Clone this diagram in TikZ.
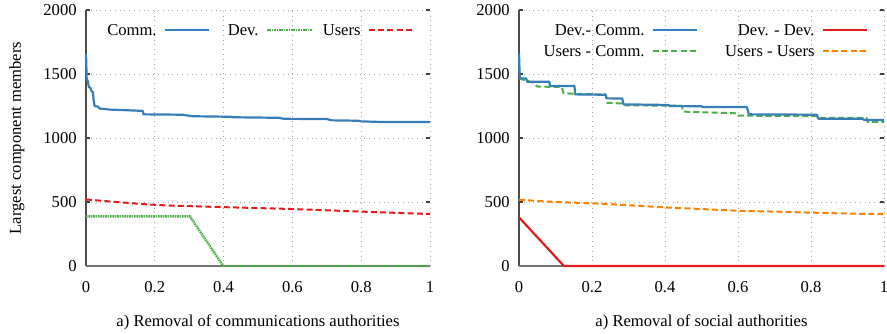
\documentclass[tikz,border=0pt]{standalone}
\usepackage{fontspec}
\setmainfont{Liberation Serif}
\usetikzlibrary{positioning}
\definecolor{cblue}{RGB}{55,126,184}
\definecolor{cred}{RGB}{228,26,28}
\definecolor{cgreen}{RGB}{77,175,74}
\definecolor{corange}{RGB}{255,127,0}
\begin{document}
\begin{tikzpicture}[x=0.5pt, y=0.5pt,
    lbl/.style={font=\fontsize{8.3}{10}\selectfont, inner sep=0pt},
    gridline/.style={gray!70, dotted, line width=0.4pt},
    axisline/.style={black!70, line width=0.6pt},
    tickline/.style={black!75, line width=0.6pt},
    curve/.style={line width=1.1pt, line join=round},
    dashcurve/.style={line width=1pt, dash pattern=on 3pt off 1.6pt},
    dotcurve/.style={line width=1.2pt, dash pattern=on 0.8pt off 0.4pt},
  ]
  \useasboundingbox (0,0) rectangle (887,333);

  % Left panel
  \begin{scope}[shift={(43pt,33.5pt)}, x=172pt, y=0.064pt]
    \foreach \gx in {0.2,0.4,0.6,0.8,1} \draw[gridline] (\gx,0) -- (\gx,2000);
    \foreach \v in {0,500,1000,1500,2000} {
      \draw[gridline] (0,\v) -- (1,\v);
      \draw[tickline] (0,\v) -- ++(2pt,0) (1,\v) -- ++(-2pt,0);
      \node[lbl, anchor=east] (lyt\v) at ([xshift=-4.5pt]0,\v) {\v};
    }
    \foreach \u [count=\i] in {0,0.2,0.4,0.6,0.8,1}
      \node[lbl, anchor=base] (lxt\i) at ([yshift=-13.3pt]\u,0) {\u};
    \draw[axisline] (0,2000) -- (0,0);
    \draw[axisline, black!55] (0,0) -- (1,0);
    \node[lbl, rotate=90] (ylab) at ([xshift=-34.5pt]0,1000) {Largest component members};
    \node[lbl, anchor=base] (lcap) at ([yshift=-30pt]0.5,0) {a) Removal of communications authorities};

    % curves
    \draw[curve, cblue] plot coordinates {(0,1660) (0.002,1460) (0.006,1440) (0.008,1400)
      (0.013,1390) (0.016,1365) (0.02,1360) (0.022,1300) (0.025,1250) (0.035,1245)
      (0.04,1230) (0.07,1222) (0.165,1212) (0.167,1185) (0.28,1182) (0.31,1170)
      (0.42,1166) (0.43,1162) (0.56,1158) (0.575,1150) (0.7,1148) (0.715,1138)
      (0.79,1135) (0.8,1130) (0.86,1125) (1,1125)};
    \draw[dotcurve, cgreen] plot coordinates {(0,388) (0.302,388) (0.399,0) (1,0)};
    \draw[dashcurve, cred] plot[smooth] coordinates {(0,520) (0.2,478) (0.4,460)
      (0.6,445) (0.8,425) (1,406)};

    % legend
    \node[lbl, anchor=east] (kcomm) at (35.5pt,118pt) {Comm.};
    \draw[curve, cblue] ([xshift=4pt]kcomm.east) -- ++(22pt,0);
    \node[lbl, anchor=east] (kdev) at (86.5pt,118pt) {Dev.};
    \draw[dotcurve, cgreen] ([xshift=4pt]kdev.east) -- ++(22.5pt,0);
    \node[lbl, anchor=east] (kusers) at (137.5pt,118pt) {Users};
    \draw[dashcurve, cred] ([xshift=4pt]kusers.east) -- ++(21.5pt,0);
  \end{scope}

  % Right panel
  \begin{scope}[shift={(259.5pt,33.5pt)}, x=182.5pt, y=0.064pt]
    \foreach \gx in {0.2,0.4,0.6,0.8,1} \draw[gridline] (\gx,0) -- (\gx,2000);
    \foreach \v in {0,500,1000,1500,2000} {
      \draw[gridline] (0,\v) -- (1,\v);
      \draw[tickline] (0,\v) -- ++(2pt,0) (1,\v) -- ++(-2pt,0);
      \node[lbl, anchor=east] (ryt\v) at ([xshift=-4.5pt]0,\v) {\v};
    }
    \foreach \u [count=\i] in {0,0.2,0.4,0.6,0.8,1}
      \node[lbl, anchor=base] (rxt\i) at ([yshift=-13.3pt]\u,0) {\u};
    \draw[axisline] (0,2000) -- (0,0);
    \draw[axisline, black!55] (0,0) -- (1,0);
    \node[lbl, anchor=base] (rcap) at ([yshift=-30pt]0.5,0) {a) Removal of social authorities};

    % curves
    \draw[dashcurve, corange] plot[smooth] coordinates {(0,518) (0.1,500) (0.2,490)
      (0.3,475) (0.4,458) (0.5,445) (0.6,432) (0.7,425) (0.8,417) (0.9,410) (1,405)};
    \draw[dashcurve, cgreen] plot coordinates {(0,1466) (0.03,1440) (0.04,1432)
      (0.05,1402) (0.117,1398) (0.122,1350) (0.153,1345) (0.237,1340) (0.242,1275)
      (0.28,1270) (0.285,1256) (0.446,1252) (0.45,1206) (0.596,1193) (0.6,1175)
      (0.82,1170) (0.822,1158) (0.952,1156) (0.955,1127) (1,1125)};
    \draw[curve, cblue] plot coordinates {(0,1660) (0.002,1466) (0.02,1466)
      (0.022,1440) (0.083,1440) (0.085,1406) (0.152,1406) (0.154,1341) (0.237,1338)
      (0.24,1310) (0.283,1308) (0.286,1263) (0.41,1258) (0.412,1250) (0.5,1248)
      (0.502,1243) (0.624,1243) (0.63,1185) (0.816,1182) (0.82,1151) (0.943,1151)
      (0.945,1141) (1,1141)};
    \draw[curve, cred] plot coordinates {(0,380) (0.123,0) (1,0)};

    % legend
    \node[lbl, anchor=east] (kdc) at (63pt,118pt) {Dev.- Comm.};
    \draw[curve, cblue] ([xshift=4pt]kdc.east) -- ++(22pt,0);
    \node[lbl, anchor=east] (kdd) at (148pt,118pt) {Dev. - Dev.};
    \draw[curve, cred] ([xshift=4pt]kdd.east) -- ++(22pt,0);
    \node[lbl, anchor=east] (kuc) at (63pt,107.5pt) {Users - Comm.};
    \draw[dashcurve, cgreen] ([xshift=4pt]kuc.east) -- ++(22pt,0);
    \node[lbl, anchor=east] (kuu) at (148pt,107.5pt) {Users - Users};
    \draw[dashcurve, corange] ([xshift=4pt]kuu.east) -- ++(22pt,0);
  \end{scope}
\end{tikzpicture}
\end{document}
